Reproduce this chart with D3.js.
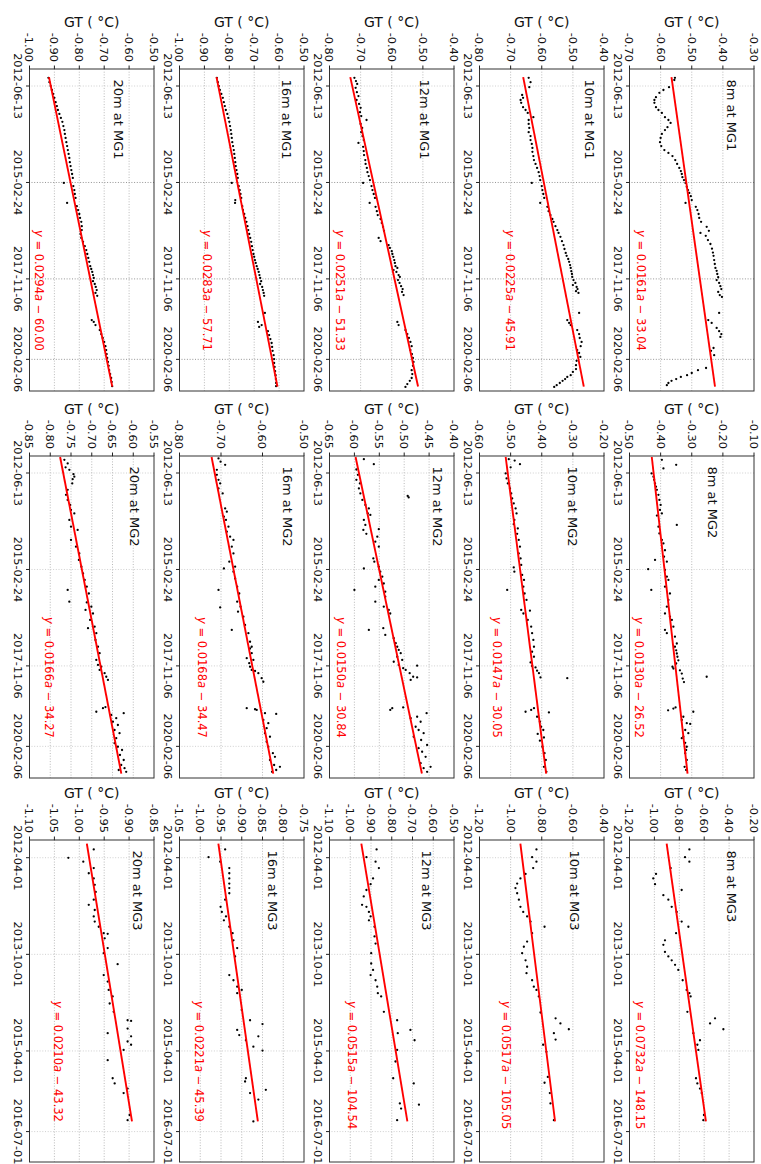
<!DOCTYPE html>
<html>
<head>
<meta charset="utf-8">
<script src="https://cdn.jsdelivr.net/npm/d3@7"></script>
<style>
  html, body { margin: 0; padding: 0; background: #fff; }
  svg { display: block; }
</style>
</head>
<body>
<svg id="chart" width="761" height="1164"></svg>
<script>
// Ground temperature (GT) trends at three boreholes, five depths each.
const sites = ["MG1", "MG2", "MG3"];
const depths = ["8m", "10m", "12m", "16m", "20m"];

// Date tick labels (MG1/MG2 share one time span, MG3 has a shorter one)
const dateTicksMG12 = ["2012-06-13", "2015-02-24", "2017-11-06", "2020-02-06"];
const dateTicksMG3 = ["2012-04-01", "2013-10-01", "2015-04-01", "2016-07-01"];

// Value tick labels per site, in depth order 8m,10m,12m,16m,20m
const gtTicksMG1 = [
  [-0.70, -0.60, -0.50, -0.40, -0.30],
  [-0.80, -0.70, -0.60, -0.50, -0.40],
  [-0.80, -0.70, -0.60, -0.50, -0.40],
  [-1.00, -0.90, -0.80, -0.70, -0.60, -0.50],
  [-1.00, -0.90, -0.80, -0.70, -0.60, -0.50]
];
const gtTicksMG2 = [
  [-0.50, -0.40, -0.30, -0.20, -0.10],
  [-0.60, -0.50, -0.40, -0.30, -0.20],
  [-0.65, -0.60, -0.55, -0.50, -0.45, -0.40],
  [-0.80, -0.70, -0.60, -0.50],
  [-0.85, -0.80, -0.75, -0.70, -0.65, -0.60, -0.55]
];
const gtTicksMG3 = [
  [-1.20, -1.00, -0.80, -0.60, -0.40, -0.20],
  [-1.20, -1.00, -0.80, -0.60, -0.40],
  [-1.10, -1.00, -0.90, -0.80, -0.70, -0.60, -0.50],
  [-1.05, -1.00, -0.95, -0.90, -0.85, -0.80, -0.75],
  [-1.10, -1.05, -1.00, -0.95, -0.90, -0.85]
];

// Linear fits y = slope * a + intercept (a = decimal year)
const slopeMG1 = [0.016139, 0.022488, 0.025145, 0.028257, 0.029360];
const interceptMG1 = [-33.04, -45.91, -51.33, -57.71, -60.00];
const slopeMG2 = [0.012968, 0.014679, 0.015031, 0.016773, 0.016647];
const interceptMG2 = [-26.52, -30.05, -30.84, -34.47, -34.27];
const slopeMG3 = [0.073184, 0.051745, 0.051487, 0.022084, 0.021041];
const interceptMG3 = [-148.15, -105.05, -104.54, -45.39, -43.32];
// Years spanned by each site's fit
const fitSpanMG1 = [2012.20, 2020.86];
const fitSpanMG2 = [2012.00, 2020.86];
const fitSpanMG3 = [2012.03, 2016.34];
// Time axis extent per site (decimal years)
const timeSpanMG12 = [2011.972, 2020.984];
const timeSpanMG3 = [2011.974, 2016.969];

// Observations [decimal year, GT in °C]
const mg1_8m = [[2012.22,-0.554],[2012.28,-0.556],[2012.48,-0.573],[2012.56,-0.591],[2012.64,-0.604],[2012.76,-0.615],[2012.84,-0.620],[2012.92,-0.620],[2013.04,-0.615],[2013.12,-0.607],[2013.20,-0.596],[2013.32,-0.586],[2013.40,-0.575],[2013.48,-0.568],[2013.60,-0.578],[2013.68,-0.586],[2013.79,-0.596],[2013.90,-0.600],[2014.02,-0.602],[2014.13,-0.598],[2014.24,-0.588],[2014.32,-0.575],[2014.41,-0.562],[2014.52,-0.553],[2014.63,-0.547],[2014.74,-0.540],[2014.83,-0.535],[2014.91,-0.532],[2015.00,-0.530],[2015.08,-0.525],[2015.16,-0.520],[2015.27,-0.516],[2015.36,-0.512],[2015.44,-0.508],[2015.53,-0.503],[2015.64,-0.500],[2015.72,-0.520],[2015.83,-0.487],[2015.92,-0.482],[2016.03,-0.478],[2016.14,-0.476],[2016.25,-0.470],[2016.39,-0.452],[2016.50,-0.445],[2016.56,-0.472],[2016.64,-0.455],[2016.76,-0.448],[2016.87,-0.440],[2017.00,-0.435],[2017.11,-0.432],[2017.20,-0.430],[2017.32,-0.428],[2017.43,-0.426],[2017.54,-0.424],[2017.62,-0.420],[2017.71,-0.418],[2017.80,-0.415],[2017.88,-0.420],[2017.96,-0.412],[2018.05,-0.408],[2018.13,-0.405],[2018.21,-0.415],[2018.30,-0.410],[2018.35,-0.403],[2018.80,-0.412],[2019.00,-0.447],[2019.08,-0.436],[2019.22,-0.420],[2019.31,-0.412],[2019.39,-0.405],[2019.47,-0.408],[2019.78,-0.430],[2019.86,-0.438],[2019.98,-0.428],[2020.34,-0.454],[2020.40,-0.480],[2020.48,-0.500],[2020.54,-0.515],[2020.59,-0.535],[2020.65,-0.550],[2020.70,-0.565],[2020.76,-0.575],[2020.82,-0.580]];
const mg1_10m = [[2012.22,-0.642],[2012.34,-0.636],[2012.48,-0.640],[2012.70,-0.663],[2012.78,-0.660],[2012.84,-0.668],[2012.92,-0.666],[2013.04,-0.660],[2013.12,-0.652],[2013.20,-0.645],[2013.32,-0.627],[2013.40,-0.642],[2013.51,-0.642],[2013.62,-0.640],[2013.74,-0.642],[2013.85,-0.636],[2013.96,-0.636],[2014.07,-0.632],[2014.18,-0.630],[2014.29,-0.630],[2014.41,-0.627],[2014.52,-0.625],[2014.63,-0.620],[2014.74,-0.615],[2014.86,-0.610],[2014.97,-0.607],[2015.08,-0.605],[2015.16,-0.632],[2015.25,-0.600],[2015.36,-0.598],[2015.47,-0.595],[2015.58,-0.592],[2015.72,-0.605],[2015.83,-0.582],[2015.95,-0.578],[2016.06,-0.572],[2016.17,-0.566],[2016.25,-0.562],[2016.37,-0.556],[2016.48,-0.550],[2016.56,-0.546],[2016.67,-0.540],[2016.79,-0.535],[2016.90,-0.530],[2017.01,-0.527],[2017.12,-0.523],[2017.20,-0.520],[2017.29,-0.515],[2017.37,-0.512],[2017.46,-0.509],[2017.54,-0.507],[2017.63,-0.505],[2017.71,-0.503],[2017.79,-0.502],[2017.88,-0.498],[2017.96,-0.492],[2018.02,-0.500],[2018.07,-0.488],[2018.13,-0.485],[2018.19,-0.490],[2018.24,-0.482],[2018.80,-0.480],[2019.00,-0.518],[2019.08,-0.512],[2019.14,-0.507],[2019.28,-0.486],[2019.39,-0.480],[2019.50,-0.478],[2019.61,-0.472],[2019.73,-0.475],[2019.84,-0.486],[2019.92,-0.480],[2020.03,-0.476],[2020.14,-0.488],[2020.26,-0.490],[2020.37,-0.490],[2020.45,-0.500],[2020.54,-0.507],[2020.59,-0.518],[2020.65,-0.525],[2020.70,-0.533],[2020.76,-0.542],[2020.82,-0.552],[2020.87,-0.560]];
const mg1_12m = [[2012.22,-0.720],[2012.31,-0.715],[2012.39,-0.711],[2012.50,-0.716],[2012.62,-0.712],[2012.73,-0.707],[2012.84,-0.713],[2012.95,-0.705],[2013.06,-0.700],[2013.18,-0.702],[2013.29,-0.698],[2013.40,-0.681],[2013.51,-0.700],[2013.62,-0.695],[2013.74,-0.698],[2013.85,-0.694],[2013.96,-0.690],[2014.04,-0.707],[2014.15,-0.692],[2014.27,-0.690],[2014.38,-0.689],[2014.52,-0.685],[2014.63,-0.684],[2014.74,-0.680],[2014.86,-0.678],[2014.97,-0.674],[2015.08,-0.670],[2015.16,-0.692],[2015.25,-0.665],[2015.36,-0.662],[2015.47,-0.658],[2015.58,-0.654],[2015.72,-0.671],[2015.83,-0.652],[2015.95,-0.648],[2016.06,-0.645],[2016.17,-0.636],[2016.28,-0.632],[2016.39,-0.628],[2016.50,-0.625],[2016.70,-0.642],[2016.79,-0.636],[2016.90,-0.610],[2016.98,-0.606],[2017.07,-0.600],[2017.15,-0.598],[2017.23,-0.595],[2017.32,-0.592],[2017.40,-0.590],[2017.49,-0.588],[2017.54,-0.582],[2017.60,-0.594],[2017.65,-0.585],[2017.74,-0.578],[2017.79,-0.574],[2017.88,-0.580],[2017.96,-0.575],[2018.05,-0.570],[2018.13,-0.565],[2018.21,-0.567],[2018.30,-0.562],[2019.05,-0.582],[2019.14,-0.578],[2019.28,-0.556],[2019.39,-0.550],[2019.50,-0.545],[2019.61,-0.540],[2019.73,-0.536],[2019.84,-0.540],[2019.95,-0.535],[2020.06,-0.532],[2020.17,-0.530],[2020.28,-0.532],[2020.40,-0.536],[2020.51,-0.534],[2020.62,-0.536],[2020.70,-0.542],[2020.79,-0.550],[2020.87,-0.556]];
const mg1_16m = [[2012.22,-0.850],[2012.34,-0.846],[2012.45,-0.842],[2012.56,-0.838],[2012.67,-0.832],[2012.78,-0.826],[2012.90,-0.822],[2013.01,-0.818],[2013.12,-0.814],[2013.23,-0.808],[2013.34,-0.804],[2013.45,-0.800],[2013.57,-0.797],[2013.68,-0.794],[2013.79,-0.792],[2013.90,-0.790],[2014.02,-0.788],[2014.13,-0.785],[2014.24,-0.782],[2014.35,-0.780],[2014.46,-0.778],[2014.58,-0.776],[2014.69,-0.774],[2014.80,-0.771],[2014.91,-0.768],[2015.02,-0.766],[2015.16,-0.790],[2015.25,-0.762],[2015.36,-0.758],[2015.47,-0.755],[2015.58,-0.752],[2015.64,-0.776],[2015.72,-0.777],[2015.81,-0.748],[2015.92,-0.745],[2016.03,-0.740],[2016.14,-0.736],[2016.25,-0.731],[2016.37,-0.727],[2016.48,-0.724],[2016.59,-0.720],[2016.70,-0.716],[2016.81,-0.712],[2016.93,-0.709],[2017.04,-0.706],[2017.15,-0.703],[2017.23,-0.700],[2017.32,-0.697],[2017.40,-0.694],[2017.49,-0.690],[2017.57,-0.686],[2017.65,-0.682],[2017.74,-0.679],[2017.82,-0.676],[2017.91,-0.672],[2017.99,-0.676],[2018.07,-0.668],[2018.16,-0.665],[2018.24,-0.662],[2018.32,-0.660],[2018.80,-0.657],[2019.05,-0.685],[2019.14,-0.670],[2019.19,-0.680],[2019.31,-0.645],[2019.42,-0.640],[2019.53,-0.635],[2019.64,-0.630],[2019.75,-0.628],[2019.86,-0.626],[2019.98,-0.622],[2020.09,-0.620],[2020.20,-0.620],[2020.31,-0.618],[2020.43,-0.616],[2020.54,-0.614],[2020.65,-0.613],[2020.76,-0.612],[2020.85,-0.612]];
const mg1_20m = [[2012.22,-0.924],[2012.34,-0.920],[2012.45,-0.915],[2012.56,-0.910],[2012.67,-0.905],[2012.78,-0.900],[2012.90,-0.895],[2013.01,-0.890],[2013.12,-0.886],[2013.23,-0.880],[2013.34,-0.874],[2013.45,-0.868],[2013.57,-0.864],[2013.68,-0.860],[2013.79,-0.858],[2013.90,-0.855],[2014.02,-0.852],[2014.13,-0.849],[2014.24,-0.846],[2014.35,-0.843],[2014.46,-0.840],[2014.58,-0.838],[2014.69,-0.835],[2014.80,-0.832],[2014.91,-0.829],[2015.02,-0.826],[2015.16,-0.862],[2015.25,-0.824],[2015.36,-0.820],[2015.47,-0.818],[2015.58,-0.815],[2015.72,-0.849],[2015.81,-0.810],[2015.92,-0.805],[2016.03,-0.800],[2016.14,-0.797],[2016.25,-0.792],[2016.37,-0.790],[2016.48,-0.790],[2016.59,-0.795],[2016.70,-0.792],[2016.81,-0.785],[2016.93,-0.778],[2017.04,-0.772],[2017.15,-0.768],[2017.26,-0.764],[2017.37,-0.760],[2017.49,-0.756],[2017.57,-0.752],[2017.65,-0.748],[2017.74,-0.745],[2017.82,-0.742],[2017.91,-0.745],[2017.99,-0.738],[2018.07,-0.734],[2018.16,-0.730],[2018.24,-0.735],[2018.32,-0.728],[2019.00,-0.750],[2019.05,-0.742],[2019.14,-0.735],[2019.28,-0.718],[2019.39,-0.712],[2019.50,-0.706],[2019.61,-0.700],[2019.73,-0.695],[2019.84,-0.692],[2019.95,-0.690],[2020.06,-0.688],[2020.17,-0.685],[2020.28,-0.682],[2020.40,-0.680],[2020.51,-0.676],[2020.62,-0.672],[2020.73,-0.670],[2020.85,-0.668]];

const mg2_8m = [[2012.08,-0.396],[2012.32,-0.391],[2012.22,-0.350],[2012.46,-0.429],[2012.55,-0.423],[2012.64,-0.421],[2012.74,-0.418],[2012.83,-0.415],[2012.92,-0.412],[2013.06,-0.407],[2013.20,-0.404],[2013.34,-0.400],[2013.48,-0.402],[2013.58,-0.396],[2013.90,-0.348],[2013.64,-0.412],[2013.95,-0.407],[2014.14,-0.404],[2014.32,-0.396],[2014.42,-0.391],[2014.61,-0.386],[2014.79,-0.389],[2014.93,-0.380],[2014.88,-0.418],[2015.14,-0.440],[2015.72,-0.430],[2015.16,-0.386],[2015.35,-0.380],[2015.44,-0.375],[2015.63,-0.386],[2015.82,-0.370],[2016.00,-0.375],[2016.19,-0.380],[2016.38,-0.386],[2016.47,-0.370],[2016.84,-0.386],[2016.93,-0.380],[2016.56,-0.364],[2016.75,-0.359],[2017.03,-0.354],[2017.22,-0.348],[2017.31,-0.354],[2017.41,-0.350],[2017.50,-0.348],[2017.59,-0.346],[2017.69,-0.343],[2017.78,-0.350],[2017.87,-0.362],[2017.92,-0.359],[2017.97,-0.338],[2018.06,-0.332],[2018.20,-0.329],[2018.30,-0.325],[2018.15,-0.252],[2019.09,-0.376],[2019.04,-0.359],[2019.01,-0.352],[2019.13,-0.295],[2019.27,-0.327],[2019.36,-0.332],[2019.45,-0.316],[2019.47,-0.305],[2019.64,-0.321],[2019.73,-0.311],[2019.83,-0.327],[2019.87,-0.332],[2020.00,-0.321],[2020.11,-0.316],[2020.20,-0.318],[2020.29,-0.321],[2020.48,-0.316],[2020.67,-0.323],[2020.76,-0.318]];
const mg2_10m = [[2012.06,-0.506],[2012.10,-0.487],[2012.20,-0.470],[2012.29,-0.500],[2012.46,-0.516],[2012.60,-0.513],[2012.74,-0.509],[2012.88,-0.502],[2013.02,-0.498],[2013.16,-0.495],[2013.30,-0.490],[2013.44,-0.484],[2013.58,-0.481],[2013.76,-0.488],[2013.88,-0.490],[2014.00,-0.477],[2014.15,-0.479],[2014.32,-0.474],[2014.51,-0.470],[2014.70,-0.474],[2014.84,-0.468],[2015.09,-0.490],[2015.21,-0.488],[2015.72,-0.511],[2015.02,-0.466],[2015.30,-0.463],[2015.44,-0.457],[2015.63,-0.459],[2015.82,-0.455],[2016.28,-0.466],[2016.00,-0.449],[2016.38,-0.459],[2016.30,-0.438],[2016.56,-0.445],[2016.75,-0.434],[2016.93,-0.431],[2017.12,-0.427],[2017.31,-0.425],[2017.45,-0.431],[2017.59,-0.425],[2017.75,-0.436],[2017.85,-0.431],[2017.89,-0.420],[2017.98,-0.415],[2018.05,-0.409],[2018.17,-0.404],[2018.19,-0.318],[2019.13,-0.452],[2019.08,-0.434],[2019.03,-0.425],[2019.15,-0.377],[2019.27,-0.415],[2019.41,-0.406],[2019.55,-0.402],[2019.64,-0.395],[2019.75,-0.413],[2019.85,-0.393],[2019.94,-0.406],[2020.11,-0.398],[2020.29,-0.391],[2020.48,-0.387],[2020.67,-0.393],[2020.81,-0.385]];
const mg2_12m = [[2012.06,-0.581],[2012.20,-0.561],[2012.35,-0.596],[2012.50,-0.593],[2012.64,-0.596],[2012.74,-0.589],[2012.88,-0.591],[2013.02,-0.588],[2013.09,-0.493],[2013.13,-0.491],[2013.20,-0.584],[2013.34,-0.578],[2013.44,-0.571],[2013.58,-0.573],[2013.62,-0.568],[2013.76,-0.581],[2013.90,-0.578],[2014.04,-0.582],[2014.15,-0.576],[2014.02,-0.551],[2014.23,-0.554],[2014.37,-0.558],[2014.51,-0.551],[2014.84,-0.562],[2014.93,-0.560],[2015.12,-0.581],[2015.07,-0.551],[2015.21,-0.548],[2015.35,-0.544],[2015.44,-0.551],[2015.54,-0.541],[2015.72,-0.600],[2015.63,-0.558],[2015.77,-0.538],[2015.91,-0.538],[2016.05,-0.558],[2016.19,-0.541],[2016.28,-0.531],[2016.38,-0.528],[2016.84,-0.571],[2016.79,-0.542],[2016.98,-0.538],[2017.07,-0.521],[2017.21,-0.517],[2017.31,-0.514],[2017.40,-0.511],[2017.49,-0.507],[2017.59,-0.514],[2017.68,-0.504],[2017.73,-0.521],[2017.82,-0.511],[2017.84,-0.474],[2017.91,-0.502],[2017.96,-0.497],[2018.05,-0.489],[2018.15,-0.482],[2018.17,-0.474],[2018.24,-0.487],[2019.08,-0.528],[2019.03,-0.524],[2019.01,-0.502],[2019.31,-0.487],[2019.27,-0.474],[2019.41,-0.467],[2019.55,-0.477],[2019.64,-0.471],[2019.73,-0.461],[2019.83,-0.481],[2019.92,-0.466],[2019.17,-0.455],[2020.06,-0.454],[2020.15,-0.471],[2020.25,-0.464],[2020.39,-0.457],[2020.57,-0.467],[2020.71,-0.461],[2020.81,-0.454],[2020.67,-0.447]];
const mg2_16m = [[2012.04,-0.706],[2012.13,-0.701],[2012.22,-0.690],[2012.36,-0.710],[2012.50,-0.710],[2012.64,-0.706],[2012.74,-0.702],[2012.88,-0.706],[2013.02,-0.696],[2013.44,-0.690],[2013.53,-0.686],[2013.67,-0.693],[2013.76,-0.688],[2013.95,-0.682],[2014.09,-0.686],[2014.23,-0.678],[2014.32,-0.670],[2014.51,-0.674],[2014.70,-0.670],[2014.93,-0.680],[2015.12,-0.693],[2015.07,-0.666],[2015.21,-0.670],[2015.40,-0.666],[2015.72,-0.706],[2016.21,-0.702],[2015.63,-0.661],[2015.82,-0.656],[2016.05,-0.661],[2016.19,-0.653],[2016.33,-0.659],[2016.47,-0.646],[2016.84,-0.674],[2016.70,-0.642],[2016.93,-0.634],[2017.17,-0.630],[2017.31,-0.626],[2017.63,-0.638],[2017.77,-0.632],[2017.96,-0.626],[2017.36,-0.630],[2017.49,-0.626],[2017.68,-0.622],[2017.87,-0.630],[2017.99,-0.618],[2018.05,-0.610],[2018.19,-0.602],[2018.29,-0.598],[2019.03,-0.638],[2019.06,-0.618],[2019.08,-0.614],[2019.17,-0.594],[2019.19,-0.567],[2019.36,-0.598],[2019.45,-0.586],[2019.59,-0.590],[2019.73,-0.594],[2019.83,-0.582],[2019.97,-0.590],[2020.11,-0.586],[2020.29,-0.575],[2020.39,-0.570],[2020.48,-0.582],[2020.62,-0.572],[2020.67,-0.558],[2020.76,-0.567],[2020.81,-0.577]];
const mg2_20m = [[2012.08,-0.766],[2012.18,-0.758],[2012.29,-0.763],[2012.36,-0.754],[2012.48,-0.744],[2012.55,-0.742],[2012.62,-0.746],[2012.74,-0.747],[2012.92,-0.758],[2013.06,-0.762],[2013.20,-0.758],[2013.34,-0.752],[2013.48,-0.750],[2013.58,-0.742],[2013.76,-0.754],[2013.95,-0.750],[2014.04,-0.734],[2014.32,-0.750],[2014.51,-0.738],[2014.70,-0.730],[2014.88,-0.731],[2015.07,-0.725],[2015.26,-0.721],[2015.44,-0.717],[2015.72,-0.758],[2016.05,-0.754],[2015.63,-0.712],[2015.82,-0.707],[2016.07,-0.712],[2016.28,-0.715],[2016.19,-0.701],[2016.38,-0.697],[2016.56,-0.704],[2016.79,-0.709],[2016.75,-0.693],[2016.93,-0.689],[2017.12,-0.691],[2017.31,-0.685],[2017.49,-0.681],[2017.68,-0.689],[2017.82,-0.685],[2017.87,-0.677],[2017.96,-0.681],[2018.05,-0.669],[2018.15,-0.665],[2018.24,-0.661],[2019.13,-0.689],[2019.03,-0.673],[2019.00,-0.667],[2019.22,-0.653],[2019.31,-0.641],[2019.41,-0.649],[2019.50,-0.637],[2019.17,-0.623],[2019.64,-0.645],[2019.73,-0.633],[2019.87,-0.641],[2020.01,-0.645],[2020.11,-0.637],[2020.20,-0.627],[2020.34,-0.632],[2020.48,-0.623],[2020.62,-0.629],[2020.71,-0.621],[2020.81,-0.617],[2020.76,-0.635]];

const mg3_8m = [[2012.12,-0.719],[2012.24,-0.754],[2012.31,-0.719],[2012.41,-0.869],[2012.50,-0.987],[2012.57,-1.009],[2012.66,-0.995],[2012.75,-0.781],[2012.83,-0.928],[2012.90,-0.888],[2013.01,-0.861],[2013.09,-0.821],[2013.24,-0.781],[2013.42,-0.826],[2013.32,-0.727],[2013.53,-0.915],[2013.60,-0.928],[2013.71,-0.915],[2013.78,-0.888],[2013.84,-0.861],[2013.91,-0.834],[2013.99,-0.808],[2014.15,-0.773],[2014.30,-0.741],[2014.35,-0.719],[2014.40,-0.709],[2014.64,-0.735],[2014.82,-0.553],[2014.74,-0.513],[2014.91,-0.446],[2014.97,-0.687],[2015.08,-0.634],[2015.15,-0.655],[2015.23,-0.647],[2015.67,-0.666],[2015.75,-0.655],[2015.83,-0.634],[2015.90,-0.620],[2016.32,-0.607],[2016.24,-0.602]];
const mg3_10m = [[2012.12,-0.834],[2012.24,-0.862],[2012.31,-0.834],[2012.41,-0.855],[2012.50,-0.904],[2012.57,-0.937],[2012.65,-0.958],[2012.72,-0.969],[2012.80,-0.958],[2012.90,-0.947],[2013.01,-0.937],[2013.09,-0.919],[2013.16,-0.894],[2013.24,-0.872],[2013.32,-0.782],[2013.42,-0.862],[2013.55,-0.894],[2013.63,-0.915],[2013.73,-0.926],[2013.84,-0.904],[2013.94,-0.894],[2014.04,-0.898],[2014.15,-0.862],[2014.25,-0.851],[2014.30,-0.834],[2014.40,-0.819],[2014.65,-0.808],[2014.74,-0.711],[2014.82,-0.680],[2014.97,-0.722],[2014.91,-0.626],[2015.07,-0.711],[2015.15,-0.791],[2015.26,-0.770],[2015.65,-0.761],[2015.74,-0.782],[2015.90,-0.748],[2016.06,-0.744],[2016.32,-0.722]];
const mg3_12m = [[2012.12,-0.873],[2012.24,-0.922],[2012.31,-0.878],[2012.41,-0.862],[2012.57,-0.890],[2012.66,-0.902],[2012.75,-0.922],[2012.85,-0.935],[2012.98,-0.943],[2013.01,-0.922],[2013.09,-0.910],[2013.16,-0.902],[2013.22,-0.910],[2013.32,-0.883],[2013.47,-0.883],[2013.58,-0.878],[2013.73,-0.899],[2013.89,-0.899],[2013.99,-0.890],[2014.07,-0.902],[2014.15,-0.878],[2014.25,-0.870],[2014.35,-0.867],[2014.40,-0.851],[2014.64,-0.838],[2014.77,-0.774],[2014.97,-0.771],[2014.92,-0.710],[2015.08,-0.690],[2015.23,-0.774],[2015.41,-0.782],[2015.67,-0.793],[2015.75,-0.694],[2016.06,-0.761],[2016.14,-0.755],[2016.08,-0.669],[2016.32,-0.774]];
const mg3_16m = [[2012.24,-0.980],[2012.12,-0.940],[2012.31,-0.952],[2012.41,-0.930],[2012.49,-0.930],[2012.57,-0.930],[2012.65,-0.930],[2012.72,-0.930],[2012.80,-0.930],[2012.90,-0.940],[2013.01,-0.951],[2013.09,-0.948],[2013.16,-0.938],[2013.22,-0.943],[2013.32,-0.930],[2013.42,-0.922],[2013.53,-0.920],[2013.65,-0.911],[2013.78,-0.916],[2014.07,-0.930],[2014.15,-0.920],[2014.25,-0.911],[2014.35,-0.911],[2014.30,-0.900],[2014.61,-0.900],[2014.92,-0.911],[2015.00,-0.906],[2015.08,-0.890],[2015.18,-0.872],[2015.67,-0.890],[2015.72,-0.892],[2014.77,-0.880],[2015.02,-0.860],[2014.83,-0.850],[2015.24,-0.850],[2015.85,-0.842],[2015.90,-0.880],[2016.00,-0.860],[2016.34,-0.872]];
const mg3_20m = [[2012.12,-0.971],[2012.25,-1.022],[2012.31,-0.992],[2012.41,-0.971],[2012.49,-0.981],[2012.57,-0.971],[2012.67,-0.969],[2012.78,-0.967],[2012.98,-0.981],[2012.90,-0.971],[2013.06,-0.969],[2013.16,-0.971],[2013.24,-0.969],[2013.32,-0.961],[2013.42,-0.951],[2013.43,-0.943],[2013.50,-0.949],[2013.65,-0.943],[2013.73,-0.951],[2013.90,-0.923],[2014.07,-0.951],[2014.17,-0.943],[2014.30,-0.941],[2014.40,-0.933],[2014.51,-0.939],[2014.64,-0.931],[2014.77,-0.903],[2014.78,-0.896],[2014.90,-0.903],[2015.02,-0.896],[2015.10,-0.903],[2015.15,-0.896],[2014.97,-0.943],[2015.23,-0.911],[2015.39,-0.943],[2015.67,-0.933],[2015.75,-0.929],[2015.90,-0.911],[2015.83,-0.903],[2016.24,-0.899],[2016.32,-0.903]];

// Label placement inside each panel (px): title centre below the top edge,
// equation centre above the bottom edge, in depth order
const titleOffset = { MG1: [22, 14, 29, 17, 35.5], MG2: [41, 31, 16, 16, 19], MG3: [22, 29, 27, 31, 16] };
const eqOffset = { MG1: [12, 31, 11, 27.5, 10], MG2: [10, 18, 12, 23, 20], MG3: [11, 27, 23, 20, 29] };

const series = {
  MG1: [mg1_8m, mg1_10m, mg1_12m, mg1_16m, mg1_20m],
  MG2: [mg2_8m, mg2_10m, mg2_12m, mg2_16m, mg2_20m],
  MG3: [mg3_8m, mg3_10m, mg3_12m, mg3_16m, mg3_20m]
};
const gtTicks = { MG1: gtTicksMG1, MG2: gtTicksMG2, MG3: gtTicksMG3 };
const slopes = { MG1: slopeMG1, MG2: slopeMG2, MG3: slopeMG3 };
const intercepts = { MG1: interceptMG1, MG2: interceptMG2, MG3: interceptMG3 };
const fitSpans = { MG1: fitSpanMG1, MG2: fitSpanMG2, MG3: fitSpanMG3 };
const timeSpans = { MG1: timeSpanMG12, MG2: timeSpanMG12, MG3: timeSpanMG3 };
const dateTicks = { MG1: dateTicksMG12, MG2: dateTicksMG12, MG3: dateTicksMG3 };

// ---- layout of the landscape figure (later turned a quarter clockwise) ----
const colLeft = [69, 456, 840];
const panelW = 322;
const rowTop = [7, 157, 307, 457, 607];
const panelH = 124.5;
const FONT = "DejaVu Sans";
const dateGridColour = { MG1: "#7a7a7a", MG2: "#c4c4c4", MG3: "#c4c4c4" };

function decimalYear(str) {
  const d = new Date(str + "T00:00:00Z");
  const y = d.getUTCFullYear();
  const s0 = Date.UTC(y, 0, 1), s1 = Date.UTC(y + 1, 0, 1);
  return y + (d.getTime() - s0) / (s1 - s0);
}

const svg = d3.select("#chart");
const fig = svg.append("g").attr("transform", "translate(761,0) rotate(90)");
const defs = svg.append("defs");

sites.forEach((site, si) => {
  depths.forEach((depth, di) => {
    const left = colLeft[si], top = rowTop[di];
    const right = left + panelW, bottom = top + panelH;
    const yt = gtTicks[site][di];
    const x = d3.scaleLinear().domain(timeSpans[site]).range([left, right]);
    const y = d3.scaleLinear().domain([yt[0], yt[yt.length - 1]]).range([bottom, top]);
    const dts = dateTicks[site].map(s => ({ label: s, a: decimalYear(s) }));

    const clipId = `clip-${site}-${depth}`;
    defs.append("clipPath").attr("id", clipId)
      .append("rect").attr("x", left).attr("y", top).attr("width", panelW).attr("height", panelH);

    const p = fig.append("g");

    // grid
    const grid = p.append("g").attr("stroke-width", 0.8)
      .attr("stroke-dasharray", "1,1.7").attr("fill", "none");
    grid.selectAll("line.gy").data(yt.slice(1, -1)).join("line")
      .attr("stroke", "#a8a8a8")
      .attr("x1", left).attr("x2", right).attr("y1", d => y(d)).attr("y2", d => y(d));
    grid.selectAll("line.gx").data(dts).join("line")
      .attr("stroke", (d, i) => i === 0 ? "#c4c4c4" : dateGridColour[site])
      .attr("x1", d => x(d.a)).attr("x2", d => x(d.a)).attr("y1", top).attr("y2", bottom);

    // observations
    const body = p.append("g").attr("clip-path", `url(#${clipId})`);
    body.selectAll("circle").data(series[site][di]).join("circle")
      .attr("cx", d => x(d[0])).attr("cy", d => y(d[1])).attr("r", 1.15).attr("fill", "#000");

    // fitted trend
    const m = slopes[site][di], b = intercepts[site][di];
    const span = fitSpans[site];
    const fitPts = span.map(a => [a, m * a + b]);
    body.append("path").datum(fitPts)
      .attr("d", d3.line().x(d => x(d[0])).y(d => y(d[1])))
      .attr("stroke", "#ff0000").attr("stroke-width", 1.9).attr("fill", "none");

    // frame
    p.append("rect").attr("x", left).attr("y", top).attr("width", panelW).attr("height", panelH)
      .attr("fill", "none").attr("stroke", "#333").attr("stroke-width", 1);

    // value axis
    const ya = p.append("g");
    ya.selectAll("line").data(yt).join("line")
      .attr("x1", left - 3.5).attr("x2", left).attr("y1", d => y(d)).attr("y2", d => y(d))
      .attr("stroke", "#222").attr("stroke-width", 1);
    ya.selectAll("text").data(yt).join("text")
      .attr("x", left - 7).attr("y", d => y(d)).attr("dy", "0.36em")
      .attr("text-anchor", "end").attr("font-family", FONT).attr("font-size", 11.3).attr("fill", "#111")
      .text(d => d.toFixed(2));

    // time axis
    const xa = p.append("g");
    xa.selectAll("line").data(dts).join("line")
      .attr("x1", d => x(d.a)).attr("x2", d => x(d.a)).attr("y1", bottom).attr("y2", bottom + 3.5)
      .attr("stroke", "#222").attr("stroke-width", 1);
    xa.selectAll("text").data(dts).join("text")
      .attr("x", d => x(d.a)).attr("y", bottom + 15.2)
      .attr("text-anchor", "middle").attr("font-family", FONT).attr("font-size", 11.3).attr("fill", "#111")
      .text(d => d.label);

    // axis title
    const lx = left - 47, ly = (top + bottom) / 2;
    p.append("text").attr("transform", `translate(${lx},${ly}) rotate(-90)`)
      .attr("text-anchor", "middle").attr("dy", "0.36em")
      .attr("font-family", FONT).attr("font-size", 14).attr("fill", "#111")
      .text("GT ( \u00B0C)");

    // panel title
    p.append("text").attr("x", left + 10.5).attr("y", top + titleOffset[site][di]).attr("dy", "0.36em")
      .attr("font-family", FONT).attr("font-size", 13).attr("fill", "#111")
      .text(`${depth} at ${site}`);

    // fit equation
    const eq = p.append("text").attr("x", left + 161).attr("y", bottom - eqOffset[site][di]).attr("dy", "0.36em")
      .attr("font-family", FONT).attr("font-size", 11.5).attr("fill", "#ff0000");
    eq.append("tspan").attr("font-style", "italic").text("y");
    eq.append("tspan").text(` = ${m.toFixed(4)}`);
    eq.append("tspan").attr("font-style", "italic").text("a");
    eq.append("tspan").text(` \u2212 ${Math.abs(b).toFixed(2)}`);
  });
});
</script>
</body>
</html>
